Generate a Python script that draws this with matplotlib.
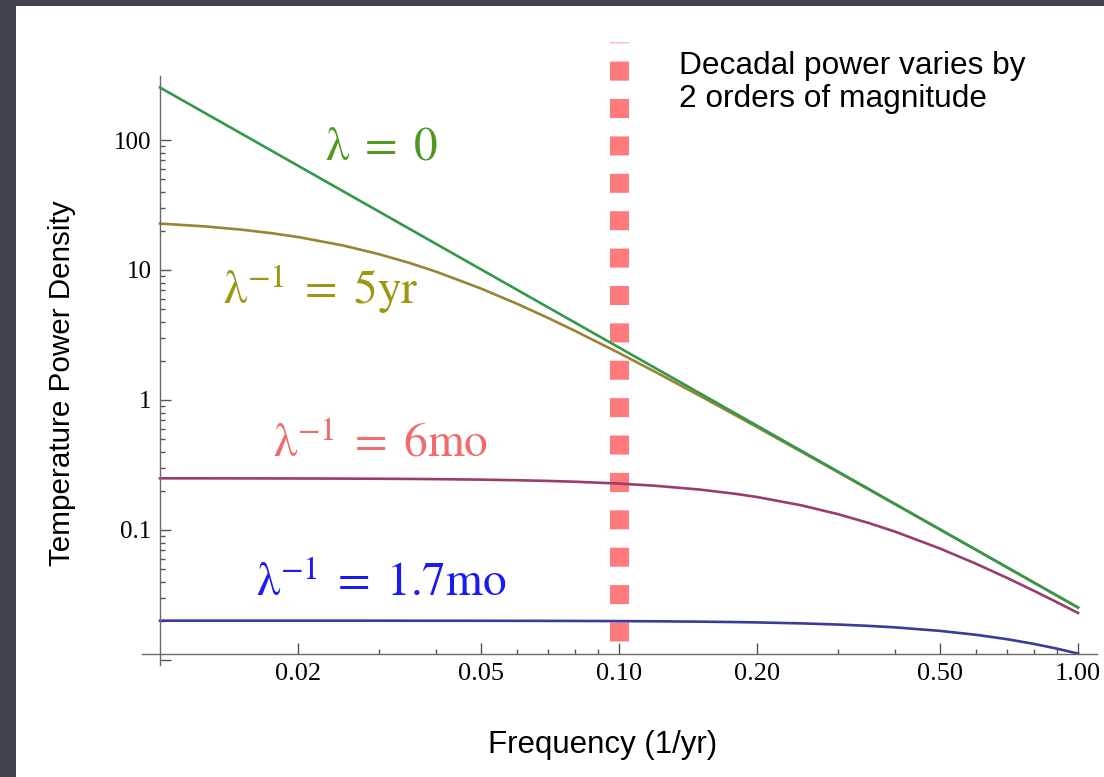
import matplotlib

matplotlib.use("Agg")

import matplotlib.pyplot as plt
from matplotlib.patches import Rectangle
from matplotlib.ticker import FixedFormatter, FixedLocator, NullFormatter

# frequency grid (1/yr) and power density
freq = [0.01, 0.0125, 0.015, 0.0175, 0.02, 0.025, 0.03, 0.035, 0.04, 0.05, 0.06, 0.07,
        0.08, 0.1, 0.12, 0.15, 0.18, 0.2, 0.25, 0.3, 0.35, 0.4, 0.5, 0.6, 0.7, 0.8,
        0.9, 1.0]
power_lambda0 = [253.3, 162.1, 112.6, 82.71, 63.33, 40.53, 28.14, 20.68, 15.83, 10.13,
                 7.036, 5.169, 3.958, 2.533, 1.759, 1.126, 0.7818, 0.6333, 0.4053,
                 0.2814, 0.2068, 0.1583, 0.1013, 0.07036, 0.05169, 0.03958, 0.03127,
                 0.02533]
power_5yr = [22.754, 21.66, 20.457, 19.198, 17.924, 15.462, 13.24, 11.317, 9.693, 7.21,
             5.491, 4.284, 3.417, 2.3, 1.643, 1.0773, 0.7581, 0.6176, 0.3988, 0.2783,
             0.2051, 0.1573, 0.10091, 0.07016, 0.05159, 0.03952, 0.03123, 0.0253]
power_6mo = [0.24975, 0.24962, 0.24945, 0.24925, 0.24902, 0.24847, 0.2478, 0.24701,
             0.24611, 0.24398, 0.24142, 0.23847, 0.23515, 0.22754, 0.21889, 0.20457,
             0.18943, 0.17924, 0.15462, 0.1324, 0.11317, 0.09693, 0.0721, 0.05491,
             0.04284, 0.03417, 0.0278, 0.023]
power_1p7mo = [0.020068, 0.020067, 0.020066, 0.020065, 0.020063, 0.02006, 0.020055,
               0.02005, 0.020044, 0.02003, 0.020012, 0.019992, 0.019968, 0.019912,
               0.019843, 0.019718, 0.019567, 0.019453, 0.019123, 0.018734, 0.018294,
               0.017811, 0.016751, 0.015616, 0.014457, 0.013317, 0.012224, 0.011197]

decadal_freq = 0.1

x_major = [0.02, 0.05, 0.1, 0.2, 0.5, 1.0]
x_major_labels = ["0.02", "0.05", "0.10", "0.20", "0.50", "1.00"]
x_minor = [0.03, 0.04, 0.06, 0.07, 0.08, 0.09, 0.3, 0.4, 0.6, 0.7, 0.8, 0.9]
y_major = [0.01, 0.1, 1, 10, 100]
y_major_labels = ["", "0.1", "1", "10", "100"]
y_minor = [m * d for d in (0.01, 0.1, 1, 10) for m in range(2, 10)]

W, H = 1104, 777


def fpos(x, y):
    return x / W, 1 - y / H


plt.rcParams["mathtext.fontset"] = "stix"

fig = plt.figure(figsize=(W / 100, H / 100), dpi=100, facecolor="#41444d")
fig.patches.append(Rectangle(fpos(16, H), 1, (H - 6) / H, transform=fig.transFigure,
                             facecolor="white", edgecolor="none", zorder=-5))

ax = fig.add_axes([142 / W, 1 - 665 / H, 955 / W, 589 / H])
ax.set_facecolor("none")
ax.set_xscale("log")
ax.set_yscale("log")
ax.set_xlim(0.009137, 1.0999)
ax.set_ylim(0.00915, 310.7)

ax.plot(freq, power_5yr, color="#978531", lw=1.9)
ax.plot(freq, power_lambda0, color="#33984c", lw=1.9)
ax.plot(freq, power_6mo, color="#993d6d", lw=1.9)
ax.plot(freq, power_1p7mo, color="#3b3b98", lw=1.9)

# dashed marker at the decadal frequency
ax.plot([decadal_freq, decadal_freq], [0.0407, 1.0585], transform=ax.get_xaxis_transform(),
        color="#ff7b7b", lw=13.7, dashes=(1.0, 0.965), dash_capstyle="butt",
        clip_on=False, zorder=1)

for side in ("top", "right"):
    ax.spines[side].set_visible(False)
ax.spines["left"].set_position(("data", 0.01))
ax.spines["bottom"].set_position(("data", 0.0112))
for side in ("left", "bottom"):
    ax.spines[side].set_color("#6a6a6a")
    ax.spines[side].set_linewidth(1.0)

ax.xaxis.set_major_locator(FixedLocator(x_major))
ax.xaxis.set_major_formatter(FixedFormatter(x_major_labels))
ax.xaxis.set_minor_locator(FixedLocator(x_minor))
ax.xaxis.set_minor_formatter(NullFormatter())
ax.yaxis.set_major_locator(FixedLocator(y_major))
ax.yaxis.set_major_formatter(FixedFormatter(y_major_labels))
ax.yaxis.set_minor_locator(FixedLocator(y_minor))
ax.yaxis.set_minor_formatter(NullFormatter())

ax.tick_params(which="both", direction="in", color="#555555", width=1.0)
ax.tick_params(which="major", length=8)
ax.tick_params(which="minor", length=3.5)
ax.tick_params(axis="x", which="major", pad=7, labelsize=19)
ax.tick_params(axis="y", which="major", pad=6, labelsize=18)
for lab in ax.get_xticklabels() + ax.get_yticklabels():
    lab.set_fontfamily("Liberation Serif")

fig.text(*fpos(603, 745), "Frequency (1/yr)", family="Liberation Sans", fontsize=22.5,
         ha="center", va="center")
fig.text(*fpos(62, 383), "Temperature Power Density", family="Liberation Sans",
         fontsize=21.3, ha="center", va="center", rotation=90)
fig.text(*fpos(679, 107), "Decadal power varies by\n2 orders of magnitude",
         family="Liberation Sans", fontsize=22.8, ha="left", va="baseline",
         linespacing=1.15)

label_style = dict(fontsize=34, ha="center", va="baseline")
fig.text(*fpos(381, 160), r"$\mathrm{\lambda}\;=\;0$", color="#4f9a1e", **label_style)
fig.text(*fpos(321, 304), r"$\mathrm{\lambda}^{-1}\;=\;5\mathrm{yr}$", color="#9c9714",
         **label_style)
fig.text(*fpos(381, 456), r"$\mathrm{\lambda}^{-1}\;=\;6\mathrm{mo}$", color="#f06c6c",
         **label_style)
fig.text(*fpos(381, 596), r"$\mathrm{\lambda}^{-1}\;=\;1.7\mathrm{mo}$", color="#1a1af5",
         **label_style)

fig.savefig("out.png", dpi=100, facecolor=fig.get_facecolor())
